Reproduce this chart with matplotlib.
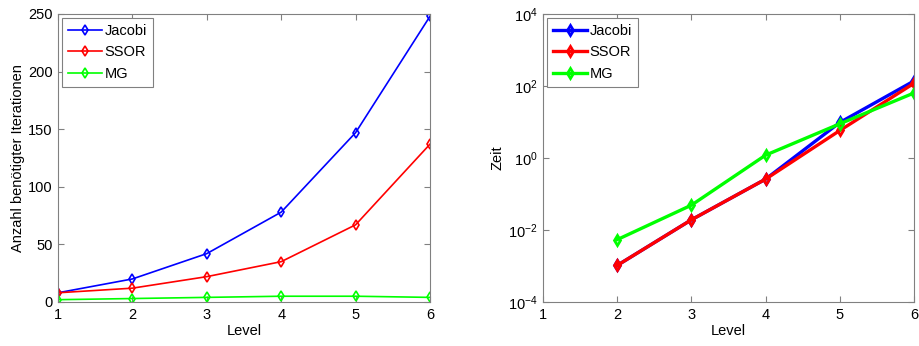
import numpy as np
import matplotlib
matplotlib.use('agg')
import matplotlib.pyplot as plt

plt.rcParams['font.family'] = ['Liberation Sans', 'DejaVu Sans']
plt.rcParams['font.size'] = 10

# Data
level = [1, 2, 3, 4, 5, 6]
iter_jacobi = [8, 20, 42, 78, 147, 248]
iter_ssor = [8, 12, 22, 35, 67, 137]
iter_mg = [2, 3, 4, 5, 5, 4]

# Runtime (no value for level 1)
time_jacobi = [np.nan, 1.04e-3, 0.0192, 0.259, 9.7, 138]
time_ssor = [np.nan, 1.04e-3, 0.0192, 0.259, 5.8, 119]
time_mg = [np.nan, 5.4e-3, 0.049, 1.2, 8.9, 64]

names = ['Jacobi', 'SSOR', 'MG']
colors = ['#0000ff', '#ff0000', '#00ff00']

fig = plt.figure(figsize=(9.19, 3.46), dpi=100, facecolor='w')
ax1 = fig.add_axes([0.0631, 0.1272, 0.4048, 0.8324])
ax2 = fig.add_axes([0.5909, 0.1272, 0.4037, 0.8324])

def style_axes(ax):
    for s in ax.spines.values():
        s.set_color('#808080')
        s.set_linewidth(0.8)
    ax.tick_params(direction='in', top=True, right=True, length=4,
                   color='#808080', labelsize=10.5, pad=4)
    ax.set_xlim(1, 6)
    ax.set_xticks(level)
    ax.set_xlabel('Level', fontsize=10.5, labelpad=2)

def add_legend(ax):
    leg = ax.legend(loc='upper left', fancybox=False, edgecolor='#808080',
                    handlelength=2.3, handletextpad=0.2, borderaxespad=0.3,
                    borderpad=0.4, labelspacing=0.5, fontsize=10.5,
                    framealpha=1)
    leg.get_frame().set_linewidth(0.8)

# Left: iterations
for y, name, c in zip([iter_jacobi, iter_ssor, iter_mg], names, colors):
    ax1.plot(level, y, '-', color=c, lw=1.2, marker='d', ms=5,
             mfc='none', mec=c, mew=1.2, label=name)
ax1.set_ylim(0, 250)
ax1.set_yticks([0, 50, 100, 150, 200, 250])
ax1.set_ylabel('Anzahl benötigter Iterationen', fontsize=10.5, labelpad=2)
style_axes(ax1)
add_legend(ax1)

# Right: time (log scale)
for y, name, c in zip([time_jacobi, time_ssor, time_mg], names, colors):
    ax2.plot(level, y, '-', color=c, lw=2.4, marker='d', ms=5,
             mfc='none', mec=c, mew=2, label=name)
ax2.set_yscale('log')
ax2.set_ylim(1e-4, 1e4)
ax2.set_yticks([1e-4, 1e-2, 1e0, 1e2, 1e4])
ax2.yaxis.set_minor_locator(matplotlib.ticker.NullLocator())
ax2.set_ylabel('Zeit', fontsize=10.5, labelpad=2)
style_axes(ax2)
add_legend(ax2)

plt.savefig('out.png', dpi=100)
